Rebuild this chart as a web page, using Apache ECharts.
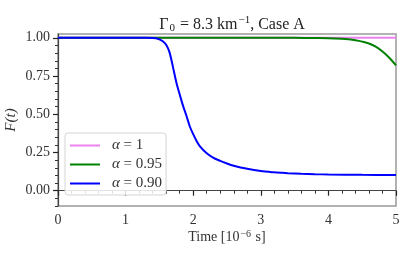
<!DOCTYPE html>
<html><head><meta charset="utf-8">
<script src="https://cdn.jsdelivr.net/npm/echarts@6/dist/echarts.min.js"></script>
<style>html,body{margin:0;padding:0;background:#fff}#c{width:415px;height:260px}</style>
</head><body><div id="c"></div>
<script>
// ---- data ----
const xTicks = [0, 1, 2, 3, 4, 5];
const yTickValues = [0, 0.25, 0.5, 0.75, 1];
const yMinorTicks = [-0.1, -0.05, 0.05, 0.1, 0.15, 0.2, 0.3, 0.35, 0.4, 0.45, 0.55, 0.6, 0.65, 0.7, 0.8, 0.85, 0.9, 0.95];
const seriesNames = ['α = 1', 'α = 0.95', 'α = 0.90'];

const pinkT = [0, 5];
const pinkF = [1, 1];

const greenT = [0, 1, 2, 3, 3.5, 3.8, 4.0, 4.2, 4.3, 4.4, 4.5, 4.6, 4.7, 4.8, 4.9, 5.0];
const greenF = [1, 1, 1, 1, 1, 0.999, 0.998, 0.994, 0.99, 0.984, 0.975, 0.963, 0.942, 0.91, 0.87, 0.82];

const blueT = [0, 0.5, 1.0, 1.2, 1.3, 1.4, 1.45, 1.5, 1.55, 1.6, 1.65, 1.7, 1.75, 1.8, 1.85, 1.9, 1.95, 2.0, 2.05, 2.1, 2.2, 2.3, 2.4, 2.5, 2.6, 2.7, 2.8, 2.9, 3.0, 3.2, 3.4, 3.6, 3.8, 4.0, 4.5, 5.0];
const blueF = [1, 1, 1, 1, 1, 0.999, 0.997, 0.99, 0.978, 0.955, 0.905, 0.81, 0.71, 0.63, 0.555, 0.49, 0.42, 0.37, 0.325, 0.29, 0.245, 0.215, 0.195, 0.178, 0.163, 0.152, 0.143, 0.135, 0.129, 0.12, 0.115, 0.111, 0.108, 0.106, 0.104, 0.103];

const colors = ['#ee82ee', '#008000', '#0000ff'];

// ---- chart ----
const FONT = 'Liberation Serif';
const zip = (a, b) => a.map((v, i) => [v, b[i]]);
const chart = echarts.init(document.getElementById('c'), null, {renderer: 'canvas'});
const mkSeries = (name, t, f, c, z) => ({
  name, type: 'line', data: zip(t, f), symbol: 'none', smooth: 0.3,
  lineStyle: {color: c, width: 2}, itemStyle: {color: c}, z, animation: false, clip: true
});
chart.setOption({
  animation: false,
  backgroundColor: '#fff',
  title: {
    text: '{a|Γ}{s|0}{a| = 8.3 km}{p|−1}{a|, Case A}',
    left: 227, textAlign: 'center', top: 10,
    textStyle: {
      fontWeight: 'normal',
      rich: {
        a: {fontFamily: FONT, fontSize: 16, fontWeight: 'normal', color: '#222'},
        s: {fontFamily: FONT, fontSize: 11, fontWeight: 'normal', color: '#222', padding: [8, 1, 0, 1]},
        p: {fontFamily: FONT, fontSize: 11, fontWeight: 'normal', color: '#222', padding: [0, 0, 8, 1]}
      }
    }
  },
  grid: {left: 58, right: 19, top: 34, bottom: 54, containLabel: false, outerBoundsMode: 'none', show: true, borderColor: '#999', borderWidth: 1.5, backgroundColor: 'transparent'},
  legend: {
    orient: 'vertical', left: 65, top: 133,
    data: seriesNames,
    itemWidth: 30, itemHeight: 2, itemGap: 4, icon: 'rect',
    padding: [5, 4, 4, 5],
    backgroundColor: 'rgba(255,255,255,0.85)', borderColor: '#d5d5d5', borderWidth: 1, borderRadius: 3,
    formatter: n => '{i|α}{t|' + n.slice(1) + '}',
    textStyle: {
      padding: [0, 0, 0, 7],
      rich: {
        i: {fontFamily: FONT, fontStyle: 'italic', fontSize: 15, color: '#333'},
        t: {fontFamily: FONT, fontSize: 15, color: '#333'}
      }
    }
  },
  xAxis: {
    type: 'value', min: 0, max: 5, interval: 1,
    name: '{a|Time [10}{p|−6}{a| s]}', nameLocation: 'middle', nameGap: 23, nameMoveOverlap: false,
    nameTextStyle: {rich: {
      a: {fontFamily: FONT, fontSize: 14, color: '#333'},
      p: {fontFamily: FONT, fontSize: 10, color: '#333', padding: [0, 1, 7, 1]}
    }},
    axisLine: {show: true, lineStyle: {color: '#444', width: 1.2}},
    axisTick: {show: true, length: 5, lineStyle: {color: '#222', width: 1.2}},
    minorTick: {show: true, splitNumber: 5, length: 3, lineStyle: {color: '#333', width: 1}},
    axisLabel: {fontFamily: FONT, fontSize: 14, color: '#333', margin: 7, formatter: v => String(v)},
    splitLine: {show: false}
  },
  yAxis: [{
    type: 'value', min: -0.1, max: 1.025, position: 'left',
    name: 'F(t)', nameLocation: 'middle', nameGap: 39, nameMoveOverlap: false,
    nameTextStyle: {fontFamily: FONT, fontStyle: 'italic', fontSize: 15, color: '#333'},
    axisLine: {show: true, lineStyle: {color: '#444', width: 1.2}},
    axisTick: {show: true, length: 5, customValues: yTickValues, lineStyle: {color: '#222', width: 1.2}},
    axisLabel: {fontFamily: FONT, fontSize: 14, color: '#333', margin: 8, customValues: yTickValues, formatter: v => v.toFixed(2)},
    splitLine: {show: false}
  }, {
    type: 'value', min: -0.1, max: 1.025, position: 'left', offset: 0,
    axisLine: {show: false},
    axisTick: {show: true, length: 3, customValues: yMinorTicks, lineStyle: {color: '#333', width: 1}},
    axisLabel: {show: false, customValues: yMinorTicks},
    splitLine: {show: false}
  }],
  series: [
    mkSeries(seriesNames[0], pinkT, pinkF, colors[0], 2),
    mkSeries(seriesNames[1], greenT, greenF, colors[1], 3),
    mkSeries(seriesNames[2], blueT, blueF, colors[2], 4)
  ]
});
</script></body></html>
